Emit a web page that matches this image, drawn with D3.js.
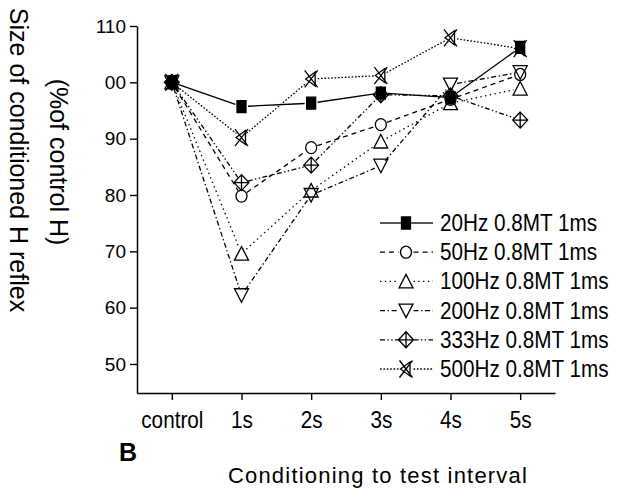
<!DOCTYPE html>
<html><head><meta charset="utf-8">
<script src="https://cdn.jsdelivr.net/npm/d3@7"></script>
<style>html,body{margin:0;padding:0;background:#fff;}svg{display:block;}</style>
</head><body>
<svg id="chart" width="618" height="491"></svg>
<script>
const categories = ["control", "1s", "2s", "3s", "4s", "5s"];
const yMajorTicks = [50, 60, 70, 80, 90, 100, 110];
const yTickLabels = ["50", "60", "70", "80", "90", "00", "110"];
const yMinorTicks = [55, 65, 75, 85, 95, 105];
const seriesNames = ["20Hz 0.8MT 1ms", "50Hz 0.8MT 1ms", "100Hz 0.8MT 1ms", "200Hz 0.8MT 1ms", "333Hz 0.8MT 1ms", "500Hz 0.8MT 1ms"];
const hz20  = [100, 95.7, 96.3, 98.1, 97.3, 106.2];
const hz50  = [100, 79.8, 88.4, 92.5, 97.0, 101.4];
const hz100 = [100, 69.6, 80.8, 89.5, 96.3, 98.9];
const hz200 = [100, 62.2, 80.0, 85.2, 99.6, 101.8];
const hz333 = [100, 82.2, 85.3, 97.8, 97.6, 93.3];
const hz500 = [100, 90.2, 100.6, 101.2, 107.9, 106.0];

const seriesValues = [hz20, hz50, hz100, hz200, hz333, hz500];
const markerTypes = ["square", "circle", "up", "down", "diamond", "xtri"];
const dashes = [null, "5,4", "1.4,3.4", "5,2.6,1.4,2.6", "5,2.4,1.4,2.4,1.4,2.4", "1.6,1.8"];

const FONT = "'Liberation Sans', Arial, Helvetica, sans-serif";
const svg = d3.select("#chart");

const x = d3.scaleLinear().domain([0.5, 6.5]).range([137, 555]);
const y = d3.scaleLinear().domain([44.85, 110]).range([393, 26]);

function markerPath(t) {
  switch (t) {
    case "square": return "M-4.5,-6H4.5V6H-4.5Z";
    case "circle": return "M-5.5,0A5.5,6 0 1,0 5.5,0A5.5,6 0 1,0 -5.5,0Z";
    case "up": return "M0,-7L7,6.5L-7,6.5Z";
    case "down": return "M0,7L7,-6.5L-7,-6.5Z";
    case "diamond": return "M0,-8L7.5,0L0,8L-7.5,0ZM0,-8V8M-7.5,0H7.5";
    case "xtri": return "M-6.5,-8.5L6.5,8.5M-6.5,8.5L6.5,-8.5M-5.5,0L4,-7V7Z";
  }
}

// axes
const yAxisMajor = d3.axisLeft(y).tickValues(yMajorTicks).tickSize(7).tickSizeOuter(0).tickPadding(4)
  .tickFormat(d => yTickLabels[yMajorTicks.indexOf(d)]);
const yAxisMinor = d3.axisLeft(y).tickValues(yMinorTicks).tickSize(4).tickSizeOuter(0).tickFormat("");
const xMajorVals = categories.map((c, i) => i + 1);
const xMinorVals = [0.5, 1.5, 2.5, 3.5, 4.5, 5.5, 6.5];
const xAxisMajor = d3.axisBottom(x).tickValues(xMajorVals).tickSize(7).tickSizeOuter(0).tickPadding(12)
  .tickFormat(d => categories[d - 1]);
const xAxisMinor = d3.axisBottom(x).tickValues(xMinorVals).tickSize(4).tickSizeOuter(0).tickFormat("");

const gy = svg.append("g").attr("transform", "translate(137,0)");
gy.call(yAxisMinor);
gy.call(yAxisMajor);
const gx = svg.append("g").attr("transform", "translate(0,393)");
gx.call(xAxisMinor);
gx.call(xAxisMajor);
svg.selectAll(".domain").attr("stroke", "#000").attr("stroke-width", 1.5);
svg.selectAll(".tick line").attr("stroke", "#000").attr("stroke-width", 1.4);
gy.selectAll("text").attr("font-family", FONT).attr("font-size", 19).attr("fill", "#000");
gx.selectAll("text").attr("font-family", FONT).attr("font-size", 23).attr("fill", "#000")
  .attr("transform", "scale(0.9,1)");

// series lines (with small gaps around markers)
const gap = 6.5;
seriesValues.forEach((vals, si) => {
  const pts = vals.map((v, i) => [x(i + 1), y(v)]);
  const g = svg.append("g");
  for (let i = 0; i < pts.length - 1; i++) {
    const [x1, y1] = pts[i], [x2, y2] = pts[i + 1];
    const d = Math.hypot(x2 - x1, y2 - y1);
    if (d <= 2 * gap) continue;
    const ux = (x2 - x1) / d, uy = (y2 - y1) / d;
    g.append("path")
      .attr("d", d3.line()([[x1 + ux * gap, y1 + uy * gap], [x2 - ux * gap, y2 - uy * gap]]))
      .attr("fill", "none").attr("stroke", "#000").attr("stroke-width", 1.3)
      .attr("stroke-dasharray", dashes[si]);
  }
});

// markers
seriesValues.forEach((vals, si) => {
  svg.append("g").selectAll("path").data(vals).join("path")
    .attr("transform", (v, i) => `translate(${x(i + 1)},${y(v)})`)
    .attr("d", markerPath(markerTypes[si]))
    .attr("fill", markerTypes[si] === "square" ? "#000" : "none")
    .attr("stroke", "#000").attr("stroke-width", 1.3);
});

// legend
const legendY = d3.scaleLinear().domain([0, 5]).range([223, 369]);
seriesNames.forEach((name, si) => {
  const ly = legendY(si);
  const g = svg.append("g");
  const mg = markerTypes[si] === "square" ? 4.5 : 7.5;
  g.append("line").attr("x1", 380).attr("x2", 406 - mg).attr("y1", ly).attr("y2", ly)
    .attr("stroke", "#000").attr("stroke-width", 1.3).attr("stroke-dasharray", dashes[si]);
  g.append("line").attr("x1", 406 + mg).attr("x2", 433).attr("y1", ly).attr("y2", ly)
    .attr("stroke", "#000").attr("stroke-width", 1.3).attr("stroke-dasharray", dashes[si]);
  g.append("path").attr("transform", `translate(406,${ly})`).attr("d", markerPath(markerTypes[si]))
    .attr("fill", markerTypes[si] === "square" ? "#000" : "none").attr("stroke", "#000").attr("stroke-width", 1.3);
  g.append("text").attr("transform", `translate(440,${ly + 8}) scale(0.9,1)`)
    .attr("font-family", FONT).attr("font-size", 23).attr("fill", "#000").text(name);
});

// axis titles
svg.append("text").attr("transform", "translate(10,160) rotate(90)")
  .attr("text-anchor", "middle").attr("font-family", FONT).attr("font-size", 25).attr("fill", "#000")
  .text("Size of conditioned H reflex");
svg.append("text").attr("transform", "translate(50,162) rotate(90)")
  .attr("text-anchor", "middle").attr("font-family", FONT).attr("font-size", 25).attr("fill", "#000")
  .text("(%of control H)");
svg.append("text").attr("x", 378).attr("y", 483)
  .attr("text-anchor", "middle").attr("font-family", FONT).attr("font-size", 22)
  .attr("letter-spacing", "1.2px").attr("fill", "#000")
  .text("Conditioning to test interval");
svg.append("text").attr("x", 119).attr("y", 461)
  .attr("font-family", FONT).attr("font-size", 25).attr("font-weight", "bold").attr("fill", "#000")
  .text("B");
</script>
</body></html>
